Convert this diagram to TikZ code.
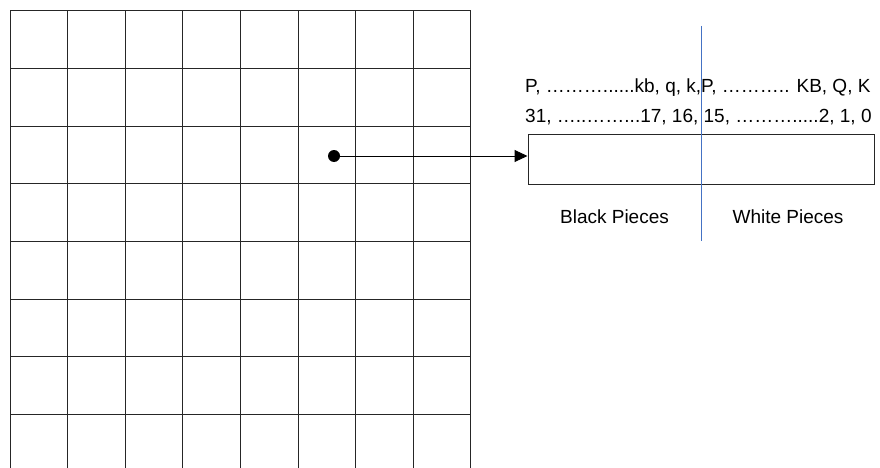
\documentclass[tikz,border=0pt]{standalone}
\usepackage{fontspec}
\setmainfont{Liberation Sans}
\usetikzlibrary{arrows.meta}
\definecolor{splitblue}{RGB}{68,114,196}
\tikzset{
  gridline/.style={line width=1pt, draw=black!85},
  lbl/.style={inner sep=0pt, font=\fontsize{19}{23}\selectfont},
  boxstyle/.style={draw=black!85, line width=1pt, minimum width=346pt, minimum height=50pt, inner sep=0pt},
}
\begin{document}
\begin{tikzpicture}[x=1pt,y=-1pt]
\useasboundingbox (0,0) rectangle (880,468);
% chess board grid (open at the bottom)
\foreach \i in {0,...,8} {
  \draw[gridline] ({10+\i*57.6},11) -- ({10+\i*57.6},468);
}
\foreach \j in {0,...,7} {
  \draw[gridline] (10,{11+\j*57.6}) -- (470.8,{11+\j*57.6});
}
% bitboard register
\node[boxstyle] (reg) at (701,159) {};
\coordinate (splittop) at (701,26);
\coordinate (splitbot) at (701,241);
\draw[draw=splitblue, line width=1pt] (splittop) -- (splitbot);
% labels
\node[lbl, anchor=base west] (pieces) at (525,93) {P, ………......kb, q, k,P, ……….. KB, Q, K};
\node[lbl, anchor=base west] (bits) at (525,122) {31, …..……...17, 16, 15, ……….....2, 1, 0};
\node[lbl, anchor=base] (black) at (614.5,223) {Black Pieces};
\node[lbl, anchor=base] (white) at (788,223) {White Pieces};
% pointer
\fill (334,156) circle (6pt) coordinate (dot);
\draw[line width=1pt, -{Triangle[length=13pt,width=12pt]}] (dot) -- (reg.west |- dot);
\end{tikzpicture}
\end{document}
